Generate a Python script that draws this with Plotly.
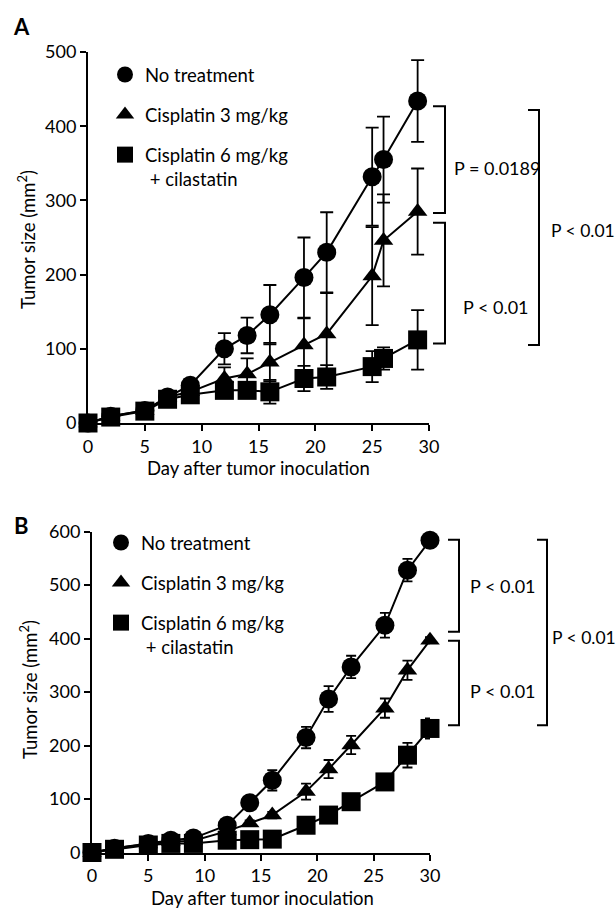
import plotly.graph_objects as go

# ---------------- data ----------------
series_names = ["No treatment", "Cisplatin 3 mg/kg", "Cisplatin 6 mg/kg<br> + cilastatin"]
series_symbols = ["circle", "triangle-up", "square"]
series_sizes = [19, 17, 19]

days_a = [0, 2, 5, 7, 9, 12, 14, 16, 19, 21, 25, 26, 29]
none_a = [0, 9, 17, 35, 51, 100, 118, 146, 196, 230, 332, 355, 434]
none_a_err = [1, 2, 3, 5, 8, 21, 24, 40, 54, 54, 66, 58, 55]
cis3_a = [0, 9, 17, 35, 42, 60, 66, 82, 105, 120, 198, 246, 285]
cis3_a_err = [1, 2, 3, 5, 6, 15, 21, 26, 36, 55, 66, 62, 58]
cis6_a = [0, 8, 16, 32, 38, 44, 44, 42, 60, 62, 76, 87, 112]
cis6_a_err = [1, 2, 3, 4, 5, 8, 10, 16, 17, 16, 21, 15, 40]

days_b = [0, 2, 5, 7, 9, 12, 14, 16, 19, 21, 23, 26, 28, 30]
none_b = [0, 8, 17, 23, 27, 51, 93, 135, 215, 287, 347, 425, 528, 584]
none_b_err = [1, 2, 3, 4, 4, 6, 8, 19, 20, 24, 21, 23, 21, 8]
cis3_b = [0, 8, 16, 20, 22, 40, 55, 70, 114, 156, 201, 270, 341, 397]
cis3_b_err = [1, 2, 2, 3, 3, 4, 5, 6, 15, 17, 17, 18, 18, 6]
cis6_b = [0, 6, 14, 17, 17, 23, 24, 25, 51, 70, 95, 132, 182, 232]
cis6_b_err = [1, 1, 2, 2, 2, 3, 3, 3, 4, 5, 6, 6, 23, 19]

x_ticks = [0, 5, 10, 15, 20, 25, 30]
y_ticks_a = [0, 100, 200, 300, 400, 500]
y_ticks_b = [0, 100, 200, 300, 400, 500, 600]

# brackets: (top value, bottom value, label)
brackets_a = [(427, 283, "P = 0.0189"), (270, 107, "P < 0.01"), (422, 105, "P < 0.01")]
brackets_b = [(585, 413, "P < 0.01"), (396, 238, "P < 0.01"), (585, 238, "P < 0.01")]

x_title = "Day after tumor inoculation"
y_title = "Tumor size (mm<sup>2</sup>)"

# ---------------- layout geometry ----------------
W, H = 616, 910
FONT = "Lato"


def px(x):
    return x / W


def py(y):
    return 1 - y / H


dom_xa = [px(88), px(429)]
dom_ya = [py(423), py(52)]
dom_xb = [px(92), px(430)]
dom_yb = [py(852.5), py(531.7)]
rng_a = [0, 500]
rng_b = [0, 600]

fig = go.Figure()

panels = [
    ("x", "y", "legend", days_a, [(none_a, none_a_err), (cis3_a, cis3_a_err), (cis6_a, cis6_a_err)], 6.5),
    ("x2", "y2", "legend2", days_b, [(none_b, none_b_err), (cis3_b, cis3_b_err), (cis6_b, cis6_b_err)], 5),
]

for xa, ya, lg, days, data, capw in panels:
    for (vals, errs) in data:
        fig.add_trace(go.Scatter(
            x=days, y=vals, mode="lines", xaxis=xa, yaxis=ya,
            line=dict(color="black", width=2), showlegend=False, hoverinfo="skip"))
    for i, (vals, errs) in enumerate(data):
        fig.add_trace(go.Scatter(
            x=days, y=vals, mode="markers", xaxis=xa, yaxis=ya,
            name=series_names[i], legend=lg, legendgroup=lg + str(i),
            marker=dict(symbol=series_symbols[i], size=series_sizes[i], color="black",
                        line=dict(width=0)),
            error_y=dict(type="data", array=errs, visible=True, color="black",
                         thickness=1.8, width=capw),
            cliponaxis=False))

axis_common = dict(
    showline=True, linecolor="black", linewidth=2, ticks="outside", ticklen=6,
    tickwidth=2, tickcolor="black", showgrid=False, zeroline=False, automargin=False,
    tickfont=dict(family=FONT, size=18, color="black"), fixedrange=True)

fig.update_layout(
    template="none",
    width=W, height=H, margin=dict(l=0, r=0, t=0, b=0, pad=0, autoexpand=False),
    plot_bgcolor="white", paper_bgcolor="white",
    font=dict(family=FONT, size=18, color="black"),
    xaxis=dict(domain=dom_xa, range=[0, 30], tickvals=x_ticks, anchor="y", **axis_common),
    yaxis=dict(domain=dom_ya, range=rng_a, tickvals=y_ticks_a, anchor="x", **axis_common),
    xaxis2=dict(domain=dom_xb, range=[0, 30], tickvals=x_ticks, anchor="y2", **axis_common),
    yaxis2=dict(domain=dom_yb, range=rng_b, tickvals=y_ticks_b, anchor="x2", **axis_common),
    legend=dict(x=105 / W, y=1 - 56 / H, xanchor="left", yanchor="top",
                bgcolor="rgba(0,0,0,0)", font=dict(family=FONT, size=18.5),
                traceorder="grouped", tracegroupgap=13, valign="top"),
    legend2=dict(x=101 / W, y=1 - 524 / H, xanchor="left", yanchor="top",
                 bgcolor="rgba(0,0,0,0)", font=dict(family=FONT, size=18.5),
                 traceorder="grouped", tracegroupgap=13, valign="top"),
)


def ypaper(v, dom, rng):
    return dom[0] + (v - rng[0]) / (rng[1] - rng[0]) * (dom[1] - dom[0])


shapes = []
annotations = []


def add_brackets(brs, dom, rng, xs, label_y, sizes):
    for (top, bot, label), (xt, xv, xl), ly, fs in zip(brs, xs, label_y, sizes):
        y0 = ypaper(top, dom, rng)
        y1 = ypaper(bot, dom, rng)
        x0 = px(xt)
        x1 = px(xv)
        path = f"M {x0} {y0} L {x1} {y0} L {x1} {y1} L {x0} {y1}"
        shapes.append(dict(type="path", xref="paper", yref="paper", path=path,
                           line=dict(color="black", width=2)))
        annotations.append(dict(xref="paper", yref="paper", x=px(xl), y=py(ly),
                                text=label, showarrow=False, xanchor="left", yanchor="middle",
                                font=dict(family=FONT, size=fs, color="black")))


add_brackets(brackets_a, dom_ya, rng_a, [(433, 445, 452), (433, 445, 461), (528, 539, 549)],
             [168, 307, 230], [18, 18, 17.5])
add_brackets(brackets_b, dom_yb, rng_b, [(448, 459, 468), (448, 459, 468), (537, 547, 550)],
             [586, 691, 637], [18, 18, 17.5])

# panel letters
annotations.append(dict(xref="paper", yref="paper", x=px(21), y=py(26), text="<b>A</b>",
                        xanchor="center", yanchor="middle",
                        showarrow=False, font=dict(family=FONT, size=22, color="black")))
annotations.append(dict(xref="paper", yref="paper", x=px(21), y=py(525), text="<b>B</b>",
                        xanchor="center", yanchor="middle",
                        showarrow=False, font=dict(family=FONT, size=22, color="black")))
# axis titles
for xc, yc in [(258, 468), (262, 898)]:
    annotations.append(dict(xref="paper", yref="paper", x=px(xc), y=py(yc), text=x_title,
                            xanchor="center", yanchor="middle",
                            showarrow=False, font=dict(family=FONT, size=18.5, color="black")))
for xc, yc in [(27, 240), (28, 690)]:
    annotations.append(dict(xref="paper", yref="paper", x=px(xc), y=py(yc), text=y_title,
                            xanchor="center", yanchor="middle",
                            textangle=-90, showarrow=False,
                            font=dict(family=FONT, size=18.5, color="black")))

fig.update_layout(shapes=shapes, annotations=annotations)
# remove the default 8px page margin so the 616x910 figure fills the window exactly
fig.write_html("out.html", config={"displayModeBar": False},
               post_script="document.body.style.margin='0';document.body.style.overflow='hidden';")
